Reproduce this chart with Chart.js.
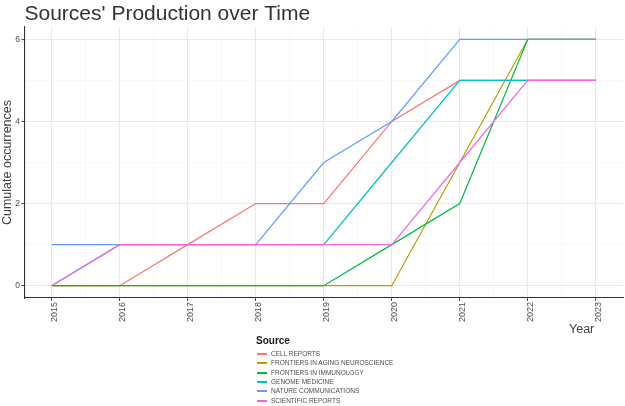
<!DOCTYPE html>
<html>
<head>
<meta charset="utf-8">
<script src="https://cdn.jsdelivr.net/npm/chart.js@4/dist/chart.umd.min.js"></script>
<style>
  html, body { margin: 0; padding: 0; background: #ffffff; }
  #wrap { position: relative; width: 625px; height: 406px; font-family: "Liberation Sans", Arial, sans-serif; }
  #chart { position: absolute; left: 0; top: 0; }
  #xtitle { position: absolute; left: 569px; top: 320px; font-size: 12.5px; line-height: 18px; color: #404040; white-space: nowrap; }
  #legend { position: absolute; left: 0; top: 0; width: 625px; height: 406px; }
  #legend .ltitle { position: absolute; left: 256px; top: 335px; font-size: 10px; font-weight: bold; color: #1a1a1a; line-height: 12px; height: 12px; }
  #legend .key { position: absolute; left: 257px; width: 10px; height: 2px; }
  #legend .txt { position: absolute; left: 271px; height: 10px; line-height: 10px; font-size: 6.5px; color: #4d4d4d; white-space: nowrap; }
</style>
</head>
<body>
<div id="wrap">
  <canvas id="chart" width="625" height="406"></canvas>
  <div id="xtitle">Year</div>
  <div id="legend"></div>
</div>
<script>
// ---- data ----
const years = [2015, 2016, 2017, 2018, 2019, 2020, 2021, 2022, 2023];
const sourceNames = [
  "CELL REPORTS",
  "FRONTIERS IN AGING NEUROSCIENCE",
  "FRONTIERS IN IMMUNOLOGY",
  "GENOME MEDICINE",
  "NATURE COMMUNICATIONS",
  "SCIENTIFIC REPORTS"
];
const cellReports         = [0, 0, 1, 2, 2, 4, 5, 5, 5];
const frontiersAging      = [0, 0, 0, 0, 0, 0, 3, 6, 6];
const frontiersImmunology = [0, 0, 0, 0, 0, 1, 2, 6, 6];
const genomeMedicine      = [0, 1, 1, 1, 1, 3, 5, 5, 5];
const natureComms         = [1, 1, 1, 1, 3, 4, 6, 6, 6];
const scientificReports   = [0, 1, 1, 1, 1, 1, 3, 5, 5];
const yTickValues = [0, 1, 2, 3, 4, 5, 6];
const xTickValues = [2015, 2015.5, 2016, 2016.5, 2017, 2017.5, 2018, 2018.5, 2019, 2019.5, 2020, 2020.5, 2021, 2021.5, 2022, 2022.5, 2023];

const seriesValues = [cellReports, frontiersAging, frontiersImmunology, genomeMedicine, natureComms, scientificReports];
const seriesColors = ["#F8766D", "#B79F00", "#00BA38", "#00BFC4", "#619CFF", "#F564E3"];

const FONT = "'Liberation Sans', Arial, sans-serif";

const datasets = seriesValues.map((vals, i) => ({
  label: sourceNames[i],
  data: years.map((yr, j) => ({ x: yr, y: vals[j] })),
  borderColor: seriesColors[i],
  backgroundColor: seriesColors[i],
  borderWidth: 1.2,
  pointRadius: 0,
  tension: 0,
  fill: false,
  order: seriesValues.length - 1 - i
}));

const isMajorX = v => Number.isInteger(v);
const isMajorY = v => v % 2 === 0;

new Chart(document.getElementById('chart').getContext('2d'), {
  type: 'line',
  data: { datasets },
  options: {
    responsive: false,
    animation: false,
    devicePixelRatio: 1,
    layout: { padding: { left: 0, right: 2, top: 0, bottom: 68 } },
    plugins: {
      legend: { display: false },
      tooltip: { enabled: false },
      title: {
        display: true,
        text: "Sources' Production over Time",
        align: 'start',
        fullSize: false,
        color: '#333333',
        font: { family: FONT, size: 21, weight: 'normal', lineHeight: 1.2 },
        padding: { top: 1.5, bottom: 0.3 }
      }
    },
    scales: {
      x: {
        type: 'linear',
        min: 2014.6,
        max: 2023.4,
        afterBuildTicks: s => { s.ticks = xTickValues.map(v => ({ value: v })); },
        afterFit: s => { s.height = 40; s.paddingLeft = 0; s.paddingRight = 0; },
        ticks: {
          autoSkip: false,
          minRotation: 90,
          maxRotation: 90,
          labelOffset: 3,
          padding: 1,
          color: '#4d4d4d',
          font: { family: FONT, size: 9 },
          callback: v => isMajorX(v) ? String(v) : ''
        },
        grid: {
          color: c => (c.tick && isMajorX(c.tick.value)) ? '#e6e6e6' : '#f3f3f3',
          lineWidth: c => (c.tick && isMajorX(c.tick.value)) ? 0.9 : 0.5,
          tickColor: c => (c.tick && isMajorX(c.tick.value)) ? '#333333' : 'rgba(0,0,0,0)',
          tickLength: 3,
          drawTicks: true
        },
        border: { display: true, color: '#333333', width: 1.1 },
        title: { display: false }
      },
      y: {
        type: 'linear',
        min: -0.3,
        max: 6.3,
        afterBuildTicks: s => { s.ticks = yTickValues.map(v => ({ value: v })); },
        afterFit: s => { s.width = 24.5; s.paddingTop = 0; s.paddingBottom = 0; },
        ticks: {
          autoSkip: false,
          padding: 1.5,
          color: '#4d4d4d',
          font: { family: FONT, size: 8.5 },
          callback: v => isMajorY(v) ? String(v) : ''
        },
        grid: {
          color: c => (c.tick && isMajorY(c.tick.value)) ? '#e6e6e6' : '#f3f3f3',
          lineWidth: c => (c.tick && isMajorY(c.tick.value)) ? 0.9 : 0.5,
          tickColor: c => (c.tick && isMajorY(c.tick.value)) ? '#333333' : 'rgba(0,0,0,0)',
          tickLength: 3,
          drawTicks: true
        },
        border: { display: true, color: '#333333', width: 1.1 },
        title: {
          display: true,
          text: 'Cumulate occurrences',
          color: '#404040',
          font: { family: FONT, size: 12.5, weight: 'normal', lineHeight: 1.2 },
          padding: { top: 0.5, bottom: 0 }
        }
      }
    }
  }
});

// HTML legend built from the same arrays
const legend = document.getElementById('legend');
const t = document.createElement('div');
t.className = 'ltitle';
t.textContent = 'Source';
legend.appendChild(t);
sourceNames.forEach((name, i) => {
  const yc = 354 + 9.35 * i;
  const key = document.createElement('div');
  key.className = 'key';
  key.style.background = seriesColors[i];
  key.style.top = (Math.round(yc) - 1) + 'px';
  legend.appendChild(key);
  const txt = document.createElement('div');
  txt.className = 'txt';
  txt.style.top = (Math.round(yc) - 5) + 'px';
  txt.textContent = name;
  legend.appendChild(txt);
});
</script>
</body>
</html>
